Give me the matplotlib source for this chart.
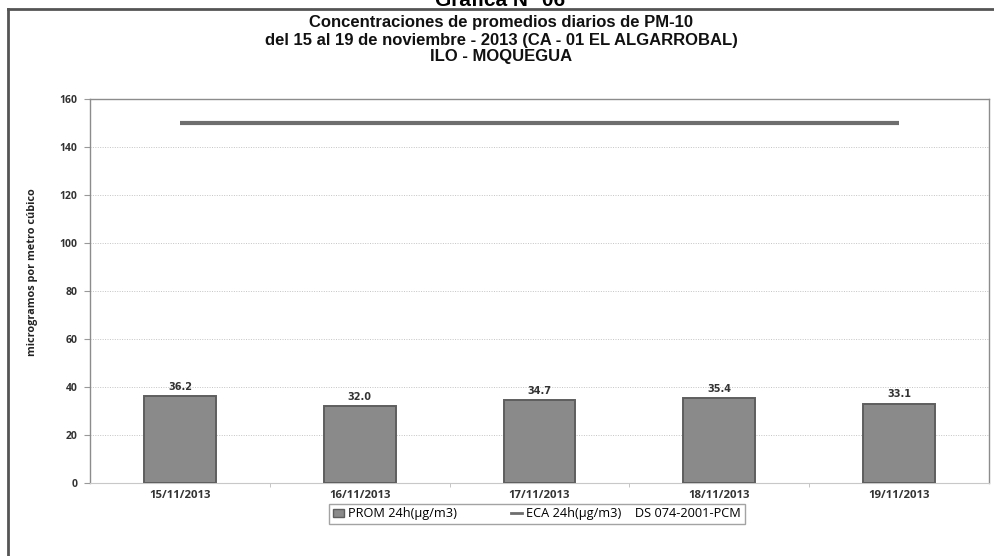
"""Bar chart: daily PM-10 averages at CA-01 El Algarrobal (Ilo - Moquegua),
15-19 Nov 2013, against the 24h ECA standard line.

Writes: out.png
"""

import matplotlib.pyplot as plt
import numpy as np
from matplotlib.lines import Line2D
from matplotlib.patches import Patch

fechas = ["15/11/2013", "16/11/2013", "17/11/2013", "18/11/2013", "19/11/2013"]
prom_24h = [36.2, 32.0, 34.7, 35.4, 33.1]
eca_24h = [150, 150, 150, 150, 150]
y_ticks = [0, 20, 40, 60, 80, 100, 120, 140, 160]
titulo = [
    "Concentraciones de promedios diarios de PM-10",
    "del 15 al 19 de noviembre - 2013 (CA - 01 EL ALGARROBAL)",
    "ILO - MOQUEGUA",
]

W, H = 995, 556
fig = plt.figure(figsize=(W / 100, H / 100), dpi=100)
ax = fig.add_axes([90 / W, 1 - 483 / H, (989 - 90) / W, (483 - 99) / H])

x = np.arange(len(fechas))
ax.bar(x, prom_24h, width=0.4, color="#8a8a8a", edgecolor="#5e5e5e",
       linewidth=1.4, zorder=3)
ax.plot(x, eca_24h, color="#6e6e6e", linewidth=3, solid_capstyle="butt",
        zorder=4)

for xi, v in zip(x, prom_24h):
    ax.annotate(f"{v:.1f}", (xi, v), xytext=(0, 3), textcoords="offset points",
                ha="center", va="bottom", fontsize=7, fontweight="bold",
                color="#333333", family="DejaVu Sans", zorder=5)

ax.set_xlim(-0.5, len(fechas) - 0.5)
ax.set_ylim(0, 160)
ax.set_yticks(y_ticks)
ax.set_yticklabels([str(t) for t in y_ticks], fontsize=7.5, fontweight="bold",
                   color="#333333", family="Open Sans")
ax.set_xticks(x)
ax.set_xticklabels(fechas, fontsize=8.2, fontweight="bold", color="#333333",
                   family="Open Sans")
ax.set_xticks(np.arange(0.5, len(fechas) - 1, 1), minor=True)
ax.tick_params(axis="x", which="major", length=0, pad=5)
ax.tick_params(axis="x", which="minor", length=3, color="#bbbbbb")
ax.tick_params(axis="y", length=4, color="#999999", pad=5)

ax.grid(axis="y", color="#c4c4c4", linestyle=(0, (1, 1.5)), linewidth=0.7,
        zorder=0)
for side in ["top", "right", "left"]:
    ax.spines[side].set_color("#8c8c8c")
    ax.spines[side].set_linewidth(1.0)
ax.spines["bottom"].set_color("#c8c8c8")

# titles (the page heading sits above the frame and runs off the top)
fig.text(500 / W, 1 - 6 / H, "Gráfica N° 06", ha="center", va="baseline",
         fontsize=15, fontweight="bold", family="Liberation Sans")
for yp, linea in zip([22, 40, 57], titulo):
    fig.text(501 / W, 1 - yp / H, linea, ha="center", va="center",
             fontsize=12, fontweight="bold", family="Liberation Sans",
             color="#111111")
fig.text(33 / W, 1 - 272 / H, "microgramos por metro cúbico", rotation=90,
         ha="center", va="center", fontsize=7.8, fontweight="bold",
         family="Open Sans", color="#222222")

# outer frame (left and top edges)
fig.add_artist(Line2D([8 / W, 8 / W], [0, 1 - 9 / H], color="#555555",
                      linewidth=2, transform=fig.transFigure))
fig.add_artist(Line2D([8 / W, 1], [1 - 9 / H, 1 - 9 / H], color="#555555",
                      linewidth=2, transform=fig.transFigure))

handles = [
    Patch(facecolor="#8a8a8a", edgecolor="#5e5e5e"),
    Line2D([], [], color="#6e6e6e", linewidth=2),
]
labels = ["PROM 24h(µg/m3)", "ECA 24h(µg/m3)    DS 074-2001-PCM"]
leg = fig.legend(handles, labels, loc="center", ncol=2,
                 bbox_to_anchor=(537 / W, 1 - 514 / H),
                 prop={"family": "Open Sans", "size": 9.2},
                 frameon=True, fancybox=False, handlelength=0.9,
                 handleheight=0.6, handletextpad=0.3, columnspacing=4.2,
                 borderpad=0.3, borderaxespad=0)
leg.get_frame().set_edgecolor("#8c8c8c")
leg.get_frame().set_linewidth(1.0)

fig.savefig("out.png", dpi=100)
